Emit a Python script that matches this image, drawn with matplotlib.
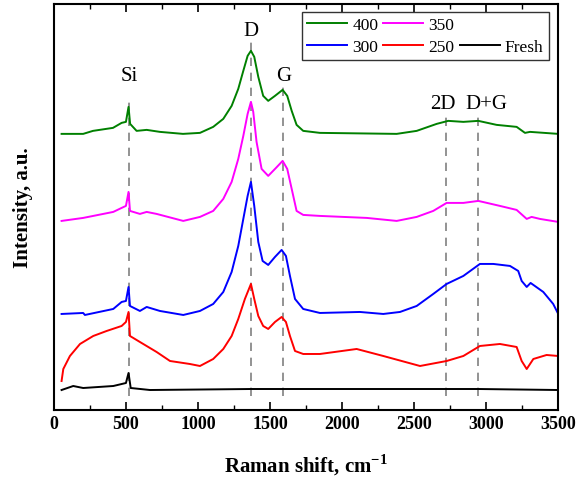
import numpy as np
import matplotlib
matplotlib.use('Agg')
import matplotlib.pyplot as plt
from matplotlib.lines import Line2D
from matplotlib.ticker import MultipleLocator

plt.rcParams['font.family'] = ['Liberation Serif', 'DejaVu Serif']
plt.rcParams['mathtext.fontset'] = 'custom'
plt.rcParams['mathtext.rm'] = 'Liberation Serif'
plt.rcParams['mathtext.bf'] = 'Liberation Serif:bold'

# 400 (green)
x_400 = [53, 203, 271, 410, 470, 500, 518, 529, 574, 644, 736, 896, 1014, 1106, 1176, 1234,
         1280, 1315, 1345, 1368, 1391, 1419, 1453, 1488, 1535, 1588, 1620, 1651, 1685, 1731,
         1847, 2380, 2519, 2658, 2738, 2843, 2947, 3074, 3213, 3271, 3306, 3502]
y_400 = [276, 276, 279, 282, 287, 288, 303, 286, 279, 280, 278, 276, 277, 283, 291, 304,
         321, 339, 354, 359, 353, 333, 314, 309, 314, 320, 314, 299, 285, 279,
         277, 276, 279, 286, 289, 288, 289, 285, 283, 277, 278, 276]

# 350 (magenta)
x_350 = [53, 203, 273, 412, 470, 500, 518, 528, 597, 644, 713, 898, 1014, 1106, 1176, 1234,
         1280, 1315, 1345, 1368, 1384, 1407, 1442, 1488, 1542, 1588, 1620, 1651, 1685, 1731,
         1847, 2172, 2380, 2519, 2634, 2727, 2843, 2947, 3097, 3213, 3283, 3317, 3375, 3502]
y_350 = [189, 192, 194, 198, 202, 204, 218, 199, 196, 198, 196, 189, 193, 199, 211, 228,
         251, 274, 296, 308, 298, 268, 241, 234, 242, 249, 241, 221, 199, 195,
         194, 192, 189, 193, 199, 207, 207, 209, 204, 200, 191, 193, 191, 188]

# 300 (blue)
x_300 = [53, 203, 215, 412, 470, 500, 518, 528, 597, 644, 736, 898, 1014, 1106, 1176, 1234,
         1280, 1315, 1345, 1368, 1391, 1419, 1449, 1488, 1535, 1581, 1611, 1639, 1674, 1731,
         1847, 2125, 2287, 2403, 2519, 2634, 2727, 2843, 2958, 3051, 3167, 3224, 3248, 3283,
         3310, 3398, 3467, 3502]
y_300 = [96, 97, 95, 101, 108, 109, 123, 104, 99, 103, 99, 95, 99, 106, 118, 138,
         164, 191, 214, 228, 204, 168, 149, 145, 153, 160, 154, 134, 111, 101,
         97, 98, 96, 98, 104, 116, 126, 134, 146, 146, 144, 139, 129, 123,
         127, 118, 106, 96]

# 250 (red)
x_250 = [53, 65, 111, 181, 273, 366, 470, 500, 518, 528, 597, 713, 806, 944, 1014, 1106,
         1176, 1234, 1280, 1326, 1368, 1391, 1419, 1453, 1488, 1535, 1581, 1611, 1639, 1674,
         1731, 1847, 2102, 2287, 2542, 2727, 2843, 2958, 3097, 3213, 3248, 3283, 3329, 3421,
         3502]
y_250 = [29, 41, 54, 66, 74, 79, 84, 88, 98, 74, 68, 58, 49, 46, 44, 51,
         61, 74, 91, 111, 126, 111, 94, 84, 81, 88, 93, 88, 74, 59,
         56, 56, 61, 54, 44, 49, 54, 64, 66, 63, 49, 41, 51, 55,
         54]

# Fresh (black)
x_fresh = [53, 134, 203, 412, 500, 518, 533, 667, 1368, 1592, 2947, 3502]
y_fresh = [20, 24, 22, 24, 27, 37, 22, 20, 21, 21, 21, 20]

peak_pos = [518, 1367, 1592, 2725, 2945]
peak_top = [313, 372, 326, 299, 299]
peak_names = ['Si', 'D', 'G', '2D', 'D+G']
name_x = [520, 1368, 1592, 2700, 3000]
name_y = [334, 379, 334, 306, 306]

fig, ax = plt.subplots(figsize=(5.8, 4.81), dpi=100)
fig.subplots_adjust(left=0.093, right=0.962, top=0.99, bottom=0.1455)

l400, = ax.plot(x_400, y_400, color='#008000', lw=1.4, label='400')
l350, = ax.plot(x_350, y_350, color='#ff00ff', lw=1.4, label='350')
l300, = ax.plot(x_300, y_300, color='#0000ff', lw=1.4, label='300')
l250, = ax.plot(x_250, y_250, color='#ff0000', lw=1.4, label='250')
lfr, = ax.plot(x_fresh, y_fresh, color='black', lw=1.4, label='Fresh')

for p, t in zip(peak_pos, peak_top):
    ax.plot([p, p], [14, t], color='gray', lw=1.2, ls=(0, (5, 4)), zorder=0)
for n, xx, yy in zip(peak_names, name_x, name_y):
    ax.text(xx, yy, n, ha='center', va='center', fontsize=15)

blank = Line2D([], [], color='none')
ax.legend([l400, l300, l350, l250, blank, lfr], ['400', '300', '350', '250', '', 'Fresh'],
          ncol=3, loc='upper right', bbox_to_anchor=(0.982, 0.98), borderaxespad=0,
          fontsize=12.5, fancybox=False, edgecolor='#333333', framealpha=1,
          handlelength=2.3, handletextpad=0.3, columnspacing=0.3, labelspacing=0.3,
          borderpad=0.3)

ax.set_xlim(0, 3500)
ax.set_ylim(0, 406)
ax.xaxis.set_major_locator(MultipleLocator(500))
ax.xaxis.set_minor_locator(MultipleLocator(250))
ax.tick_params(axis='x', which='both', direction='in', top=True, labelsize=13)
ax.tick_params(axis='x', which='major', length=6, width=1.2)
ax.tick_params(axis='x', which='minor', length=3.5, width=1)
ax.set_yticks([])
for lab in ax.get_xticklabels():
    lab.set_fontweight('bold')
for s in ax.spines.values():
    s.set_linewidth(1.5)

ax.set_xlabel('Raman shift, cm$^{\\mathbf{-1}}$', fontsize=15, fontweight='bold', labelpad=14)
ax.set_ylabel('Intensity, a.u.', fontsize=15, fontweight='bold', labelpad=15)

fig.savefig('out.png', dpi=100)
